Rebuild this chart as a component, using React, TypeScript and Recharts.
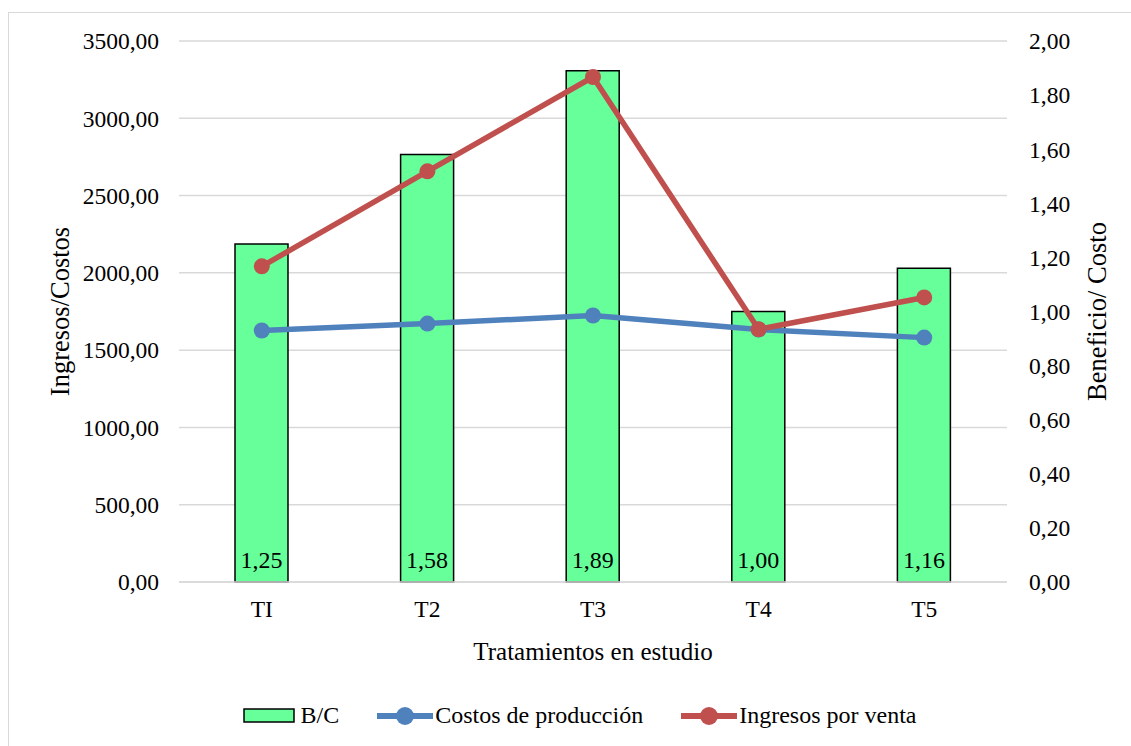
import React from "react";
import {
  Bar,
  CartesianGrid,
  ComposedChart,
  Label,
  LabelList,
  Legend,
  Line,
  XAxis,
  YAxis,
} from "recharts";

const categories = ["TI", "T2", "T3", "T4", "T5"];
const beneficioCosto = [1.25, 1.58, 1.89, 1.0, 1.16];
const costosProduccion = [1627, 1672, 1724, 1633, 1581];
const ingresosVenta = [2042, 2657, 3267, 1635, 1841];

const leftTicks = [0, 500, 1000, 1500, 2000, 2500, 3000, 3500];
const rightTicks = [0, 0.2, 0.4, 0.6, 0.8, 1, 1.2, 1.4, 1.6, 1.8, 2];

const data = categories.map((name, i) => ({
  name,
  bc: beneficioCosto[i],
  costos: costosProduccion[i],
  ingresos: ingresosVenta[i],
}));

const FONT = "Liberation Serif, DejaVu Serif, Times New Roman, serif";
const GREEN = "#66ff99";
const BLUE = "#4f81bd";
const RED = "#c0504d";
const TICK_SIZE = 23.5;
const Y_TITLE_SIZE = 26.5;
const X_TITLE_SIZE = 25;

const fmt = (v: number) => v.toFixed(2).replace(".", ",");

function LegendContent() {
  const lineIcon = (color: string) => (
    <svg width={56} height={22} style={{ marginRight: 2 }}>
      <line x1={0} y1={11} x2={56} y2={11} stroke={color} strokeWidth={6} />
      <circle cx={28} cy={11} r={9} fill={color} />
    </svg>
  );
  const textStyle = { fontSize: 24, color: "#000", fontFamily: FONT };
  return (
    <div
      style={{
        display: "flex",
        justifyContent: "center",
        alignItems: "center",
        paddingLeft: 28,
      }}
    >
      <svg width={52} height={15} style={{ marginRight: 6 }}>
        <rect x={1} y={1} width={50} height={13} fill={GREEN} stroke="#000" strokeWidth={1.5} />
      </svg>
      <span style={textStyle}>B/C</span>
      <span style={{ width: 38 }} />
      {lineIcon(BLUE)}
      <span style={textStyle}>Costos de producción</span>
      <span style={{ width: 38 }} />
      {lineIcon(RED)}
      <span style={textStyle}>Ingresos por venta</span>
    </div>
  );
}

export default function App() {
  return (
    <div
      style={{
        position: "absolute",
        left: 0,
        top: 0,
        width: 1131,
        height: 746,
        overflow: "hidden",
        background: "#fff",
        fontFamily: FONT,
      }}
    >
      <div
        style={{
          position: "absolute",
          left: 8,
          top: 12,
          width: 1140,
          height: 750,
          border: "1px solid #d9d9d9",
        }}
      />
      <div style={{ position: "absolute", left: 0, top: 0 }}>
        <ComposedChart
          width={1131}
          height={746}
          data={data}
          margin={{ top: 41, right: 0, bottom: 84, left: 0 }}
          style={{ fontFamily: FONT }}
        >
          <CartesianGrid
            yAxisId="left"
            vertical={false}
            stroke="#d9d9d9"
            strokeWidth={1.5}
          />
          <XAxis
            dataKey="name"
            height={80}
            axisLine={{ stroke: "#d9d9d9", strokeWidth: 1.5 }}
            tickLine={false}
            tickMargin={12}
            tick={{ fill: "#000", fontSize: TICK_SIZE, fontFamily: FONT }}
          >
            <Label
              value="Tratamientos en estudio"
              position="insideBottom"
              offset={2}
              fill="#000"
              fontSize={X_TITLE_SIZE}
              fontFamily={FONT}
            />
          </XAxis>
          <YAxis
            yAxisId="left"
            width={179}
            domain={[0, 3500]}
            ticks={leftTicks}
            axisLine={false}
            tickLine={false}
            tickMargin={14}
            tickFormatter={fmt}
            tick={{ fill: "#000", fontSize: TICK_SIZE, fontFamily: FONT }}
          >
            <Label
              value="Ingresos/Costos"
              angle={-90}
              position="insideLeft"
              offset={60}
              fill="#000"
              fontSize={Y_TITLE_SIZE}
              fontFamily={FONT}
              style={{ textAnchor: "middle" }}
            />
          </YAxis>
          <YAxis
            yAxisId="right"
            orientation="right"
            width={124}
            domain={[0, 2]}
            ticks={rightTicks}
            axisLine={false}
            tickLine={false}
            tickMargin={16}
            tickFormatter={fmt}
            tick={{ fill: "#000", fontSize: TICK_SIZE, fontFamily: FONT }}
          >
            <Label
              value="Beneficio/ Costo"
              angle={-90}
              position="insideRight"
              offset={34}
              fill="#000"
              fontSize={Y_TITLE_SIZE}
              fontFamily={FONT}
              style={{ textAnchor: "middle" }}
            />
          </YAxis>
          <Legend
            verticalAlign="middle"
            layout="horizontal"
            content={<LegendContent />}
            wrapperStyle={{ top: 702, left: 0, width: 1131 }}
          />
          <Bar
            yAxisId="right"
            dataKey="bc"
            name="B/C"
            barSize={53}
            fill={GREEN}
            stroke="#000"
            strokeWidth={1.5}
            isAnimationActive={false}
          >
            <LabelList
              dataKey="bc"
              position="insideBottom"
              offset={14}
              formatter={(v: number) => fmt(v)}
              fill="#000"
              fontSize={24}
              fontFamily={FONT}
            />
          </Bar>
          <Line
            yAxisId="left"
            dataKey="costos"
            name="Costos de producción"
            stroke={BLUE}
            strokeWidth={5.5}
            dot={{ r: 8, fill: BLUE, stroke: BLUE, strokeWidth: 0 }}
            activeDot={false}
            isAnimationActive={false}
          />
          <Line
            yAxisId="left"
            dataKey="ingresos"
            name="Ingresos por venta"
            stroke={RED}
            strokeWidth={5.5}
            dot={{ r: 8, fill: RED, stroke: RED, strokeWidth: 0 }}
            activeDot={false}
            isAnimationActive={false}
          />
        </ComposedChart>
      </div>
    </div>
  );
}
